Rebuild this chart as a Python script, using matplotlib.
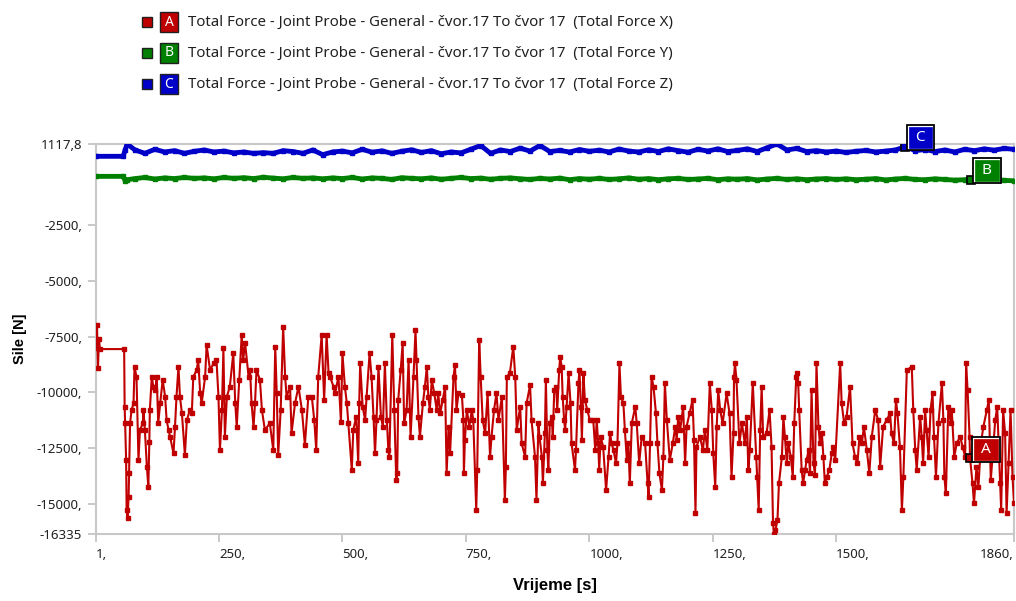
import matplotlib
matplotlib.use("Agg")
import matplotlib.pyplot as plt
from matplotlib.patches import Rectangle

plt.rcParams['font.family'] = ['Noto Sans', 'DejaVu Sans']

# Total Force X (series A)
time_a = [1, 3, 5, 7, 9, 58, 59, 60, 62, 63, 65, 67, 68, 70, 73, 77, 79, 83, 87, 90,
          96, 97, 100, 104, 107, 109, 110, 114, 117, 121, 124, 127, 131, 136, 141, 144, 148, 151, 158, 161,
          164, 168, 171, 175, 181, 185, 191, 195, 198, 205, 208, 212, 215, 222, 225, 232, 239, 245, 249, 252,
          256, 259, 262, 266, 272, 279, 283, 286, 291, 296, 299, 303, 310, 313, 316, 320, 323, 326, 333, 337,
          343, 353, 360, 364, 367, 370, 375, 380, 384, 387, 394, 397, 404, 411, 418, 424, 431, 438, 443, 447,
          451, 458, 463, 468, 472, 475, 482, 485, 492, 497, 500, 505, 509, 512, 519, 522, 528, 532, 534, 536,
          541, 546, 549, 555, 559, 563, 566, 569, 573, 578, 582, 586, 590, 593, 595, 601, 605, 609, 611, 613,
          618, 622, 625, 630, 634, 638, 644, 648, 650, 654, 657, 663, 667, 671, 674, 677, 681, 686, 691, 694,
          698, 703, 708, 711, 715, 718, 725, 728, 731, 735, 742, 745, 746, 748, 752, 757, 762, 765, 771, 773,
          777, 780, 784, 789, 794, 799, 802, 807, 812, 816, 823, 829, 831, 833, 839, 846, 850, 853, 860, 863,
          870, 873, 880, 883, 890, 893, 897, 899, 904, 906, 910, 912, 915, 917, 920, 924, 926, 929, 933, 935,
          939, 941, 944, 946, 949, 951, 954, 958, 962, 964, 971, 973, 978, 980, 983, 985, 988, 991, 996, 1001,
          1008, 1012, 1015, 1018, 1020, 1023, 1028, 1034, 1039, 1042, 1045, 1049, 1054, 1057, 1061, 1064, 1069, 1072, 1076, 1079,
          1082, 1086, 1093, 1096, 1101, 1106, 1113, 1118, 1120, 1123, 1126, 1130, 1135, 1138, 1142, 1147, 1150, 1153, 1157, 1163,
          1169, 1174, 1177, 1180, 1184, 1190, 1194, 1197, 1203, 1209, 1212, 1215, 1217, 1224, 1230, 1234, 1239, 1244, 1248, 1251,
          1255, 1258, 1261, 1265, 1270, 1278, 1284, 1288, 1292, 1293, 1295, 1298, 1304, 1309, 1315, 1319, 1322, 1325, 1331, 1338,
          1340, 1343, 1346, 1349, 1352, 1359, 1365, 1369, 1372, 1374, 1377, 1381, 1384, 1390, 1393, 1396, 1400, 1403, 1408, 1412,
          1415, 1419, 1421, 1423, 1425, 1430, 1433, 1437, 1440, 1444, 1447, 1450, 1454, 1457, 1460, 1464, 1467, 1471, 1474, 1477,
          1481, 1486, 1491, 1494, 1498, 1508, 1511, 1516, 1521, 1528, 1533, 1538, 1543, 1547, 1552, 1556, 1562, 1567, 1572, 1579,
          1585, 1589, 1595, 1602, 1609, 1612, 1617, 1621, 1624, 1629, 1633, 1636, 1643, 1653, 1656, 1660, 1663, 1670, 1673, 1676,
          1680, 1683, 1687, 1691, 1695, 1698, 1702, 1707, 1714, 1717, 1719, 1722, 1727, 1732, 1734, 1739, 1744, 1751, 1756, 1761,
          1763, 1766, 1770, 1771, 1776, 1779, 1784, 1788, 1793, 1798, 1805, 1809, 1813, 1817, 1822, 1826, 1832, 1834, 1838, 1842,
          1845, 1849, 1853, 1857, 1860]
force_a = [-8000, -6980, -8920, -7600, -8060, -8060, -10640, -11380, -13030, -15260, -15640, -14670, -13620, -11380, -10790, -10490, -8850, -9300, -13030, -11680,
           -11380, -10790, -11680, -13320, -14220, -12200, -10790, -9300, -9740, -9890, -9300, -11380, -10490, -9440, -10190, -11240, -11680, -11980, -12730, -11530,
           -10190, -8850, -10190, -10940, -12800, -11240, -10790, -10940, -9300, -9000, -8550, -10040, -10490, -9300, -7880, -9000, -8700, -8550, -10190, -12580,
           -10790, -8030, -11980, -10190, -9740, -8250, -10490, -11530, -9440, -7430, -8550, -7800, -9300, -9000, -10490, -11530, -10490, -9000, -9440, -10790,
           -11680, -11380, -12580, -7950, -10040, -12800, -10790, -7060, -9300, -10190, -9740, -11830, -10490, -9740, -10790, -12350, -10190, -10190, -11240, -12580,
           -9300, -7430, -10340, -7430, -9150, -9300, -9740, -10040, -9300, -11310, -8250, -9740, -10490, -11380, -13470, -11680, -11090, -13170, -10490, -8700,
           -10640, -11240, -10190, -8250, -9300, -11090, -12730, -11240, -8850, -11090, -11530, -8700, -11240, -12580, -12880, -7430, -10790, -13920, -13620, -10340,
           -9000, -7800, -11380, -10790, -8550, -11980, -9300, -7210, -8550, -11090, -11980, -10490, -9740, -8850, -10190, -10790, -9440, -10040, -10790, -10040,
           -10940, -10340, -9740, -13620, -11530, -12730, -9300, -8770, -10790, -10040, -10120, -11240, -13620, -12130, -10790, -11530, -10790, -11240, -15260, -13470,
           -7650, -9300, -11240, -11830, -10040, -12880, -11980, -10790, -10040, -11240, -10190, -14820, -13320, -9300, -9150, -7950, -9300, -11680, -10640, -12280,
           -12880, -10490, -9670, -11240, -12880, -14820, -11380, -11980, -12880, -14070, -11830, -9440, -12580, -13470, -11380, -11090, -11980, -9890, -9740, -10790,
           -9000, -8400, -8850, -10190, -11240, -11680, -10640, -9150, -10490, -12280, -13470, -12580, -9590, -9000, -10640, -12130, -9150, -10340, -10790, -11240,
           -11240, -12580, -11240, -12280, -13470, -11980, -12430, -14370, -12880, -11830, -12280, -12580, -13170, -12280, -8700, -10190, -10490, -11680, -13030, -12280,
           -14070, -11380, -10640, -11380, -13170, -11980, -12280, -14070, -14670, -12280, -9300, -9740, -10940, -12280, -13620, -14370, -12880, -9590, -11240, -13030,
           -12280, -11530, -12130, -11090, -11680, -10640, -13170, -11530, -10940, -10340, -12130, -15410, -12430, -11980, -12580, -11680, -12580, -9590, -10790, -12730,
           -14220, -11530, -9890, -10790, -11380, -10040, -10940, -13770, -11830, -9300, -8700, -9440, -12280, -11380, -12280, -11090, -13470, -12580, -9590, -12880,
           -13770, -15260, -11680, -9740, -11980, -11830, -10790, -12430, -15860, -16335, -16160, -15710, -14070, -12880, -11090, -11980, -13170, -12280, -12880, -13770,
           -11380, -9300, -9150, -9590, -10790, -13470, -14070, -13470, -13030, -12580, -13620, -9890, -13170, -13700, -8700, -11530, -12280, -11830, -12880, -14070,
           -13770, -13470, -12730, -12430, -13030, -8700, -10490, -11380, -11090, -9740, -12280, -12880, -13170, -11980, -12280, -11530, -12580, -13620, -11980, -10790,
           -11240, -13320, -11530, -11240, -10940, -11830, -12280, -10340, -10940, -12430, -15260, -13770, -9000, -8850, -10790, -12580, -13470, -11090, -11980, -13170,
           -10790, -11680, -12880, -10790, -10040, -11980, -13770, -11380, -9590, -11240, -13770, -14520, -10640, -11380, -10790, -12880, -12280, -11980, -12430, -12880,
           -8700, -9890, -11980, -12934, -14070, -14960, -13320, -14220, -12280, -11530, -10790, -10340, -13920, -12730, -11240, -10640, -14070, -15260, -10790, -11830,
           -15410, -13170, -10790, -13770, -14960]

# Total Force Y (B) and Z (C)
time_bc = [1, 56, 60, 64,
           80, 100, 120, 140, 160, 180, 200, 220, 240, 260, 280, 300, 320, 340, 360, 380, 400, 420, 440, 460,
           480, 500, 520, 540, 560, 580, 600, 620, 640, 660, 680, 700, 720, 740, 760, 780, 800, 820, 840, 860, 880, 900,
           920, 940, 960, 980, 1000, 1020, 1040, 1060, 1080, 1100, 1120, 1140, 1160, 1180, 1200, 1220, 1240, 1260, 1280, 1300,
           1320, 1340, 1360, 1380, 1400, 1420, 1440, 1460, 1480, 1500, 1520, 1540, 1560, 1580, 1600, 1620, 1640, 1660, 1680, 1700,
           1720, 1740, 1760, 1780, 1800, 1820, 1840, 1860]
force_c = [567, 567, 850, 1117.8,
           850, 700, 880, 760, 820, 700, 790, 850, 760, 800, 720, 760, 700, 730, 700, 820, 780, 700, 850, 640,
           760, 800, 720, 880, 750, 810, 700, 790, 860, 740, 820, 680, 760, 720, 880, 1050, 700, 850, 780, 930, 800, 1050,
           780, 830, 760, 870, 790, 840, 760, 890, 800, 760, 860, 780, 900, 820, 750, 880, 800, 900, 780, 830,
           900, 780, 950, 1117.8, 850, 920, 780, 820, 760, 800, 740, 790, 830, 760, 800, 850, 1000, 820, 870, 780,
           850, 760, 880, 820, 900, 840, 920, 880]
force_b = [-330, -330, -520, -480,
           -430, -380, -450, -400, -430, -380, -420, -400, -440, -380, -420, -390, -430, -370, -410, -440, -380, -420, -400, -440,
           -400, -430, -380, -450, -400, -420, -470, -390, -420, -440, -400, -460, -420, -380, -430, -410, -460, -420, -400, -440, -470, -420,
           -450, -410, -480, -430, -460, -420, -470, -440, -400, -460, -430, -480, -440, -420, -470, -450, -420, -480, -440, -460,
           -430, -490, -450, -420, -470, -440, -480, -450, -430, -470, -440, -480, -460, -430, -490, -450, -420, -470, -480, -440,
           -470, -500, -480, -460, -500, -470, -510, -530]

legend_labels = ['Total Force - Joint Probe - General - čvor.17 To čvor 17  (Total Force X)',
                 'Total Force - Joint Probe - General - čvor.17 To čvor 17  (Total Force Y)',
                 'Total Force - Joint Probe - General - čvor.17 To čvor 17  (Total Force Z)']
letters = ['A', 'B', 'C']
colors = ['#c00000', '#008000', '#0000c8']

x_ticks = [1, 250, 500, 750, 1000, 1250, 1500, 1860]
x_tick_labels = ['1,', '250,', '500,', '750,', '1000,', '1250,', '1500,', '1860,']
y_ticks = [1117.8, -2500, -5000, -7500, -10000, -12500, -15000, -16335]
y_tick_labels = ['1117,8', '-2500,', '-5000,', '-7500,', '-10000,', '-12500,', '-15000,', '-16335']

# where the letter tags sit on each curve
tag_points = [(1771, -12934), (1773, -480), (1639, 1000)]

W, H = 1016, 601
fig = plt.figure(figsize=(W / 100, H / 100), dpi=100)
ax = fig.add_axes([96 / W, 67 / H, 918 / W, 390 / H])

ax.plot(time_a, force_a, color=colors[0], lw=1.5, marker='s', ms=3.4, mec=colors[0], zorder=3)
ax.plot(time_bc, force_b, color=colors[1], lw=3.5, marker='s', ms=3, zorder=3)
ax.plot(time_bc, force_c, color=colors[2], lw=3.5, marker='s', ms=3, zorder=3)

ax.set_xlim(1, 1860)
ax.set_ylim(-16335, 1117.8)
ax.set_xticks(x_ticks)
ax.set_xticklabels(x_tick_labels, ha='left')
ax.get_xticklabels()[-1].set_ha('right')
ax.set_yticks(y_ticks)
ax.set_yticklabels(y_tick_labels)
ax.tick_params(axis='both', colors='#c0c0c0', length=6, width=1.2, labelcolor='#202020',
               labelsize=9.5)
ax.tick_params(axis='x', pad=4)
ax.tick_params(axis='y', pad=4)
for s in ax.spines.values():
    s.set_color('#c8c8c8')
    s.set_linewidth(1.5)

ax.set_xlabel('Vrijeme [s]', fontsize=12, fontweight='bold', family='Liberation Sans', labelpad=12)
ax.set_ylabel('Sile [N]', fontsize=10.5, fontweight='bold', family='Liberation Sans', labelpad=7)

# letter tags on the curves
for (t, v), letter, c in zip(tag_points, letters, colors):
    ax.plot([t], [v], marker='s', ms=6, mfc=c, mec='black', mew=1.2, zorder=5)
    tag = ' ' + letter + ' '
    ax.annotate(tag, xy=(t, v), xytext=(5, 1), textcoords='offset points',
                ha='left', va='bottom', color='white', fontsize=11, zorder=6,
                bbox=dict(boxstyle='square,pad=0.32', fc='white', ec='black', lw=1.3))
    ax.annotate(tag, xy=(t, v), xytext=(5, 1), textcoords='offset points',
                ha='left', va='bottom', color='white', fontsize=11, zorder=7,
                bbox=dict(boxstyle='square,pad=0.2', fc=c, ec=c, lw=0.5))

# legend at top
for i, (lab, letter, c) in enumerate(zip(legend_labels, letters, colors)):
    yc = 1 - (22 + 31 * i) / H
    fig.patches.append(Rectangle((142 / W, yc - 5 / H), 10 / W, 10 / H, transform=fig.transFigure,
                                 fc=c, ec='#202020', lw=1))
    fig.patches.append(Rectangle((160 / W, yc - 10 / H), 18 / W, 20 / H, transform=fig.transFigure,
                                 fc=c, ec='#202020', lw=1))
    fig.text(169 / W, yc, letter, color='white', fontsize=10, ha='center', va='center')
    fig.text(188 / W, yc, lab, color='#202020', fontsize=10.8, ha='left', va='center')

fig.savefig('out.png', dpi=100)
